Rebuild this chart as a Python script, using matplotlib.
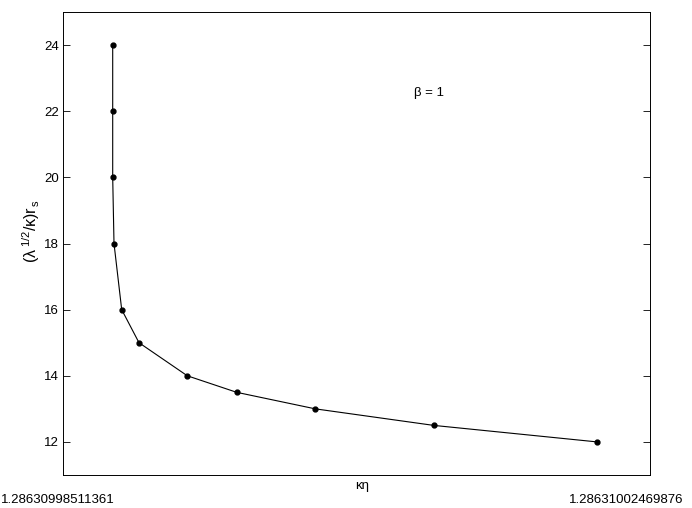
import numpy as np
import matplotlib
matplotlib.use("Agg")
import matplotlib.pyplot as plt

plt.rcParams['font.family'] = ['Liberation Sans', 'DejaVu Sans']
plt.rcParams['mathtext.fontset'] = 'custom'
plt.rcParams['mathtext.rm'] = 'Liberation Sans'
plt.rcParams['mathtext.it'] = 'Liberation Sans'

# kappa*eta values for each radius
keta = [1.2863099884653, 1.2863099884653, 1.2863099884653, 1.2863099885529,
        1.2863099890722, 1.2863099902388, 1.2863099934960, 1.2863099968274,
        1.2863100021280, 1.2863100101125, 1.2863100211452]
rs = [24, 22, 20, 18, 16, 15, 14, 13.5, 13, 12.5, 12]

x_left = 1.28630998511361
x_right = 1.28631002469876

W, H = 692, 508
fig = plt.figure(figsize=(W/100, H/100), dpi=100)
ax = fig.add_axes([63/W, 1-475/H, (650-63)/W, (475-12)/H])

ax.plot(keta, rs, color="black", linewidth=0.8, marker="o", markersize=3.5)

ax.set_xlim(x_left, x_right)
ax.set_ylim(11, 25)
ax.set_yticks([12, 14, 16, 18, 20, 22, 24])
ax.set_xticks([])
ax.tick_params(axis="y", direction="in", length=5, width=0.6, right=True,
               labelsize=9.5, pad=3)
for s in ax.spines.values():
    s.set_linewidth(0.7)

ax.text(0.6235, 0.825, r"β = 1", transform=ax.transAxes, fontsize=9.5,
        ha="center", va="center")

fig.text(362/W, 1-486/H, "κη", fontsize=9.5, ha="center", va="center")
fig.text(31/W, 1-231/H, r"$(\lambda^{\,1/2}/\kappa)r_{\,s}$", rotation=90,
         fontsize=11.5, ha="center", va="center")
fig.text(58/W, 1-500/H, "%.14f" % x_left, fontsize=9.5, ha="center", va="center")
fig.text(626/W, 1-500/H, "%.14f" % x_right, fontsize=9.5, ha="center", va="center")

plt.savefig("out.png", dpi=100)
